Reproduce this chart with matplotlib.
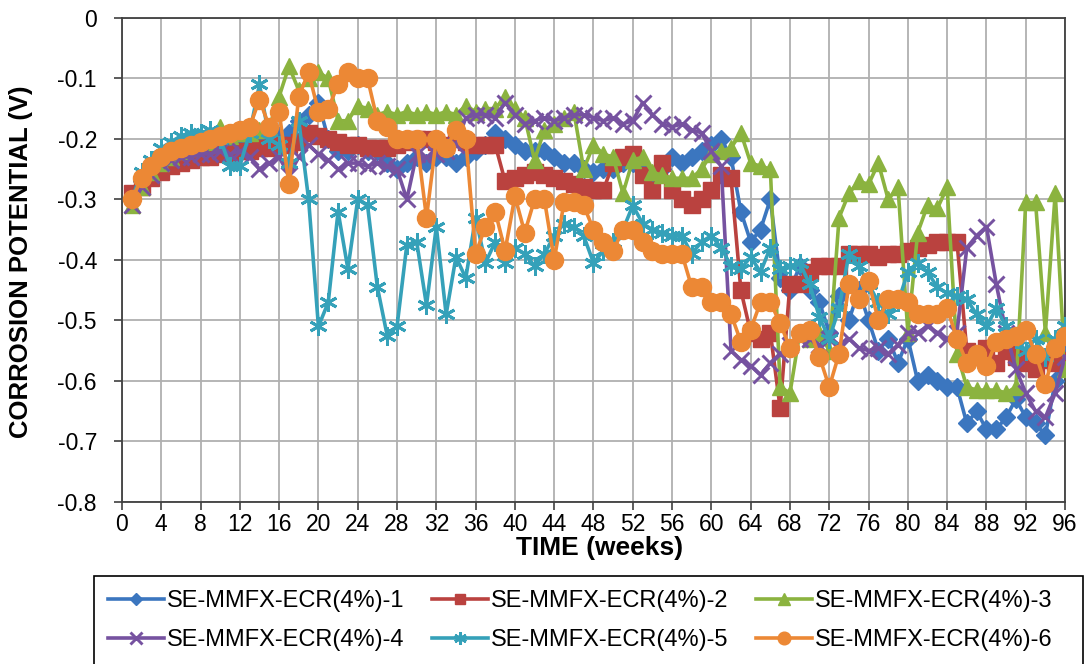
import matplotlib
matplotlib.use("Agg")
import matplotlib.pyplot as plt
from matplotlib.patches import Rectangle
import numpy as np

plt.rcParams['font.family'] = ['Liberation Sans', 'DejaVu Sans']

weeks = list(range(1, 97))

s1 = [-0.30, -0.27, -0.25, -0.24, -0.23, -0.225, -0.22, -0.215, -0.21, -0.205,
      -0.205, -0.20, -0.20, -0.20, -0.20, -0.195, -0.19, -0.17, -0.16, -0.14,
      -0.20, -0.22, -0.22, -0.21, -0.22, -0.22, -0.24, -0.25, -0.24, -0.23,
      -0.24, -0.23, -0.23, -0.24, -0.23, -0.22, -0.21, -0.19, -0.20, -0.21,
      -0.22, -0.22, -0.22, -0.23, -0.24, -0.24, -0.25, -0.255, -0.25, -0.25,
      -0.24, -0.24, -0.25, -0.26, -0.25, -0.23, -0.24, -0.23, -0.22, -0.21,
      -0.20, -0.23, -0.32, -0.37, -0.35, -0.30, -0.43, -0.45, -0.41, -0.45,
      -0.47, -0.52, -0.46, -0.50, -0.45, -0.50, -0.55, -0.53, -0.57, -0.53,
      -0.60, -0.59, -0.60, -0.61, -0.61, -0.67, -0.65, -0.68, -0.68, -0.66,
      -0.63, -0.66, -0.67, -0.69, -0.60, -0.55]

s2 = [-0.29, -0.28, -0.265, -0.255, -0.245, -0.24, -0.235, -0.23, -0.23, -0.225,
      -0.225, -0.22, -0.22, -0.215, -0.215, -0.21, -0.21, -0.205, -0.19, -0.195,
      -0.20, -0.205, -0.21, -0.21, -0.215, -0.215, -0.215, -0.21, -0.205, -0.20,
      -0.20, -0.205, -0.21, -0.20, -0.205, -0.21, -0.21, -0.21, -0.27, -0.265,
      -0.26, -0.255, -0.26, -0.265, -0.27, -0.275, -0.28, -0.285, -0.285, -0.24,
      -0.23, -0.225, -0.26, -0.285, -0.24, -0.285, -0.30, -0.31, -0.30, -0.285,
      -0.26, -0.265, -0.45, -0.52, -0.53, -0.52, -0.645, -0.44, -0.44, -0.42,
      -0.41, -0.41, -0.41, -0.39, -0.39, -0.39, -0.395, -0.39, -0.39, -0.385,
      -0.38, -0.375, -0.37, -0.37, -0.37, -0.55, -0.56, -0.545, -0.57, -0.55,
      -0.56, -0.57, -0.58, -0.565, -0.57, -0.565]

s3 = [-0.31, -0.28, -0.255, -0.24, -0.23, -0.22, -0.215, -0.21, -0.205, -0.18,
      -0.195, -0.19, -0.19, -0.185, -0.18, -0.13, -0.08, -0.12, -0.10, -0.09,
      -0.10, -0.17, -0.17, -0.145, -0.15, -0.16, -0.155, -0.16, -0.155, -0.16,
      -0.155, -0.16, -0.155, -0.16, -0.145, -0.155, -0.15, -0.15, -0.13, -0.15,
      -0.165, -0.235, -0.185, -0.175, -0.165, -0.155, -0.25, -0.21, -0.225, -0.23,
      -0.29, -0.235, -0.23, -0.255, -0.26, -0.265, -0.265, -0.265, -0.25, -0.225,
      -0.22, -0.215, -0.19, -0.24, -0.245, -0.25, -0.61, -0.62, -0.52, -0.53,
      -0.52, -0.55, -0.33, -0.29, -0.27, -0.275, -0.24, -0.30, -0.28, -0.52,
      -0.355, -0.31, -0.315, -0.28, -0.555, -0.61, -0.615, -0.615, -0.615, -0.62,
      -0.61, -0.305, -0.305, -0.52, -0.29, -0.58]

s4 = [-0.31, -0.28, -0.26, -0.24, -0.235, -0.23, -0.23, -0.225, -0.225, -0.22,
      -0.225, -0.22, -0.23, -0.25, -0.24, -0.23, -0.26, -0.23, -0.21, -0.225,
      -0.235, -0.25, -0.24, -0.24, -0.245, -0.24, -0.245, -0.25, -0.30, -0.225,
      -0.23, -0.225, -0.22, -0.21, -0.165, -0.16, -0.16, -0.165, -0.14, -0.16,
      -0.175, -0.17, -0.165, -0.17, -0.165, -0.16, -0.16, -0.165, -0.17, -0.165,
      -0.175, -0.17, -0.14, -0.16, -0.175, -0.18, -0.175, -0.185, -0.19, -0.22,
      -0.245, -0.55, -0.565, -0.575, -0.59, -0.57, -0.555, -0.54, -0.53, -0.53,
      -0.54, -0.53, -0.54, -0.53, -0.545, -0.55, -0.545, -0.555, -0.54, -0.52,
      -0.52, -0.51, -0.52, -0.53, -0.52, -0.38, -0.36, -0.345, -0.44, -0.52,
      -0.58, -0.62, -0.65, -0.66, -0.62, -0.56]

s5 = [-0.30, -0.255, -0.235, -0.215, -0.205, -0.195, -0.19, -0.19, -0.185, -0.20,
      -0.245, -0.245, -0.19, -0.11, -0.20, -0.21, -0.24, -0.17, -0.30, -0.51,
      -0.47, -0.32, -0.415, -0.30, -0.31, -0.445, -0.525, -0.51, -0.375, -0.37,
      -0.475, -0.345, -0.49, -0.395, -0.43, -0.33, -0.405, -0.37, -0.405, -0.38,
      -0.39, -0.41, -0.39, -0.36, -0.34, -0.345, -0.36, -0.405, -0.385, -0.37,
      -0.35, -0.31, -0.34, -0.35, -0.355, -0.36, -0.36, -0.39, -0.37, -0.36,
      -0.38, -0.41, -0.415, -0.395, -0.42, -0.38, -0.415, -0.41, -0.405, -0.44,
      -0.495, -0.53, -0.48, -0.39, -0.41, -0.44, -0.47, -0.49, -0.47, -0.42,
      -0.405, -0.42, -0.445, -0.455, -0.46, -0.465, -0.49, -0.51, -0.48, -0.51,
      -0.53, -0.55, -0.53, -0.56, -0.53, -0.51]

s6 = [-0.30, -0.265, -0.245, -0.23, -0.22, -0.215, -0.21, -0.205, -0.20, -0.195,
      -0.19, -0.185, -0.18, -0.135, -0.18, -0.155, -0.275, -0.13, -0.09, -0.155,
      -0.15, -0.11, -0.09, -0.10, -0.10, -0.17, -0.18, -0.20, -0.20, -0.20,
      -0.33, -0.20, -0.215, -0.185, -0.20, -0.39, -0.345, -0.32, -0.385, -0.295,
      -0.355, -0.30, -0.30, -0.40, -0.305, -0.305, -0.31, -0.35, -0.37, -0.385,
      -0.35, -0.35, -0.37, -0.385, -0.39, -0.39, -0.39, -0.445, -0.445, -0.47,
      -0.47, -0.49, -0.535, -0.515, -0.47, -0.47, -0.505, -0.545, -0.52, -0.515,
      -0.56, -0.61, -0.555, -0.44, -0.465, -0.435, -0.50, -0.465, -0.465, -0.47,
      -0.49, -0.49, -0.49, -0.48, -0.53, -0.57, -0.555, -0.575, -0.535, -0.53,
      -0.525, -0.515, -0.555, -0.605, -0.545, -0.525]

labels = ["SE-MMFX-ECR(4%)-1", "SE-MMFX-ECR(4%)-2", "SE-MMFX-ECR(4%)-3",
          "SE-MMFX-ECR(4%)-4", "SE-MMFX-ECR(4%)-5", "SE-MMFX-ECR(4%)-6"]
series = [s1, s2, s3, s4, s5, s6]
colors = ["#3B76BF", "#BA423F", "#8BB33F", "#7652A0", "#35A1B9", "#EC8835"]
markers = ["D", "s", "^", "x", (6, 2, 0), "o"]
msizes = [9, 11, 12, 12, 13, 13]

xticks = list(range(0, 97, 4))
yticks = [0, -0.1, -0.2, -0.3, -0.4, -0.5, -0.6, -0.7, -0.8]
ytick_labels = ["0", "-0.1", "-0.2", "-0.3", "-0.4", "-0.5", "-0.6", "-0.7", "-0.8"]

W, H = 1086, 664
fig = plt.figure(figsize=(W / 100, H / 100), dpi=100)
ax = fig.add_axes([0.1123, 0.244, 0.8684, 0.7291])

handles = []
for i in range(6):
    kw = dict(color=colors[i], lw=2.6, marker=markers[i], markersize=msizes[i],
              label=labels[i], zorder=3 + i)
    if i in (3, 4):
        kw.update(markeredgewidth=2.1)
    h, = ax.plot(weeks, series[i], **kw)
    handles.append(h)

ax.set_xlim(0, 96)
ax.set_ylim(-0.8, 0)
ax.set_xticks(xticks)
ax.set_yticks(yticks)
ax.set_yticklabels(ytick_labels)
ax.grid(True, color="#b0b0b0", lw=1.3)
ax.set_axisbelow(True)
for sp in ax.spines.values():
    sp.set_color("#404040")
    sp.set_linewidth(1.3)
ax.tick_params(axis="both", labelsize=16.5, direction="out", length=6, width=1.2,
               color="#404040")
ax.tick_params(axis="y", pad=12)
ax.tick_params(axis="x", pad=2)

fig.text(600 / W, 1 - 548 / H, "TIME (weeks)", fontsize=19, fontweight="bold",
         ha="center", va="center")
fig.text(21 / W, 1 - 262 / H, "CORROSION POTENTIAL (V)", fontsize=18.5,
         fontweight="bold", rotation=90, ha="center", va="center")

# legend frame drawn explicitly (it runs past the bottom edge in the reference)
fig.patches.append(Rectangle((94 / W, -0.05), (1083 - 94) / W, 1 - 576 / H + 0.05,
                             transform=fig.transFigure, fill=False,
                             edgecolor="black", lw=1.2))

# legend filled row-wise: reorder for matplotlib's column-major filling
ncol = 3
nrow = 2
leg_order = [r * ncol + c for c in range(ncol) for r in range(nrow)]
leg = fig.legend(handles=[handles[k] for k in leg_order],
                 labels=[labels[k] for k in leg_order],
                 loc="upper left", bbox_to_anchor=(94 / W, 1 - 576 / H),
                 borderaxespad=0, ncol=ncol, fontsize=17, frameon=False,
                 handlelength=2.35, handletextpad=0.12, borderpad=0.6,
                 labelspacing=0.72, columnspacing=1.2, markerscale=0.7)

fig.savefig("out.png", dpi=100)
